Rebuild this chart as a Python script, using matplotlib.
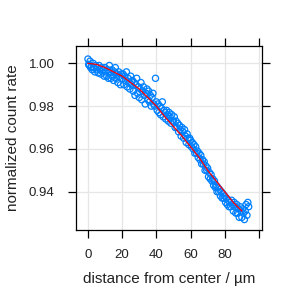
import matplotlib
matplotlib.use("Agg")
import matplotlib.pyplot as plt

# measured points
dist = [0.0,0.4,0.8,1.2,1.6,2.0,2.5,3.0,3.5,4.0,4.5,5.0,5.5,6.0,6.5,7.0,7.5,8.0,8.5,9.0,9.5,
        10,10.5,11,11.5,12,12.5,13,13.5,14,14.5,15,15.5,16,16.5,17,17.5,18,18.5,19,19.5,
        20,20.5,21,21.5,22,22.5,23,23.5,24,24.5,25,25.5,26,26.5,27,27.5,28,28.5,29,29.5,
        30,30.5,31,31.5,32,32.5,33,33.5,34,34.5,35,35.5,36,36.5,37,37.5,38,38.5,39,39.5,
        40,40.5,41,41.5,42,42.5,43,43.5,44,44.5,45,45.5,46,46.5,47,47.5,48,48.5,49,49.5,
        50,50.5,51,51.5,52,52.5,53,53.5,54,54.5,55,55.5,56,56.5,57,57.5,58,58.5,59,59.5,
        60,60.5,61,61.5,62,62.5,63,63.5,64,64.5,65,65.5,66,66.5,67,67.5,68,68.5,69,69.5,
        70,70.5,71,71.5,72,72.5,73,73.5,74,74.5,75,75.5,76,76.5,77,77.5,78,78.5,79,79.5,
        80,80.5,81,81.5,82,82.5,83,83.5,84,84.5,85,85.5,86,86.5,87,87.5,88,88.5,89,89.5,
        90,90.5,91,91.5,92,92.5,93,93.5,94]
rate = [1.002,0.9995,0.999,1.001,0.998,0.9985,0.997,1.000,0.998,0.996,0.999,0.997,0.998,0.9955,0.999,0.997,0.995,0.998,0.996,0.997,0.994,
        0.998,0.996,0.994,0.997,0.993,0.999,0.996,0.993,0.997,0.994,0.992,0.996,0.998,0.993,0.995,0.991,0.996,0.994,0.990,0.995,
        0.993,0.995,0.990,0.994,0.992,0.996,0.989,0.993,0.991,0.988,0.994,0.990,0.992,0.987,0.991,0.985,0.990,0.993,0.986,0.989,
        0.984,0.988,0.991,0.983,0.987,0.989,0.985,0.981,0.986,0.988,0.983,0.987,0.982,0.985,0.980,0.984,0.986,0.981,0.980,0.993,
        0.982,0.978,0.981,0.977,0.980,0.976,0.979,0.982,0.975,0.978,0.977,0.974,0.978,0.976,0.973,0.977,0.975,0.972,0.976,0.973,
        0.973,0.975,0.970,0.973,0.970,0.972,0.968,0.971,0.969,0.966,0.970,0.968,0.965,0.969,0.966,0.963,0.967,0.965,0.962,0.965,
        0.964,0.961,0.963,0.960,0.962,0.958,0.961,0.958,0.959,0.956,0.958,0.955,0.957,0.953,0.955,0.953,0.954,0.950,0.952,0.950,
        0.951,0.947,0.949,0.946,0.948,0.945,0.946,0.943,0.945,0.942,0.943,0.940,0.942,0.940,0.941,0.938,0.940,0.937,0.939,0.937,
        0.938,0.935,0.937,0.934,0.936,0.933,0.935,0.933,0.936,0.934,0.931,0.935,0.933,0.930,0.934,0.930,0.932,0.928,0.933,0.931,
        0.928,0.932,0.930,0.927,0.931,0.934,0.929,0.935,0.933]

# fitted curve
fit_x = [0,5,10,15,20,25,30,35,40,45,50,55,60,65,70,75,80,85,90]
fit_y = [1.000,0.9995,0.998,0.996,0.994,0.991,0.988,0.984,0.980,0.975,0.9705,0.966,0.961,0.956,0.950,0.945,0.940,0.935,0.931]

xticks = [0,20,40,60,80,100]
xticklabels = ["0","20","40","60","80",""]
yticks = [0.94,0.96,0.98,1.00]
yticklabels = ["0.94","0.96","0.98","1.00"]

plt.rcParams['font.family'] = ['Liberation Sans', 'DejaVu Sans']
fig = plt.figure(figsize=(3,3), dpi=100)
ax = fig.add_axes([76/300, 70/300, 186/300, 184/300])

ax.scatter(dist, rate, s=20, facecolors='none', edgecolors='#0080ff', linewidths=0.9, zorder=3)
ax.plot(fit_x, fit_y, color='red', lw=0.9, zorder=4)

ax.set_xlim(-7.0, 101.8)
ax.set_ylim(0.9221, 1.0081)
ax.set_xticks(xticks)
ax.set_xticklabels(xticklabels)
ax.set_yticks(yticks)
ax.set_yticklabels(yticklabels)
ax.grid(True, color='#e6e6e6', lw=0.9, zorder=0)
ax.set_axisbelow(True)
ax.tick_params(direction='out', length=5.5, width=0.9, top=True, right=True,
               labelsize=9.5, colors='black', labelcolor='#222222')
ax.tick_params(axis='y', pad=10)
ax.tick_params(axis='x', pad=8)
for s in ax.spines.values():
    s.set_linewidth(0.9)
ax.set_xlabel('distance from center / µm', fontsize=11, color='#222222', labelpad=8)
ax.set_ylabel('normalized count rate', fontsize=11, color='#222222', labelpad=6)

fig.savefig('out.png', dpi=100)
